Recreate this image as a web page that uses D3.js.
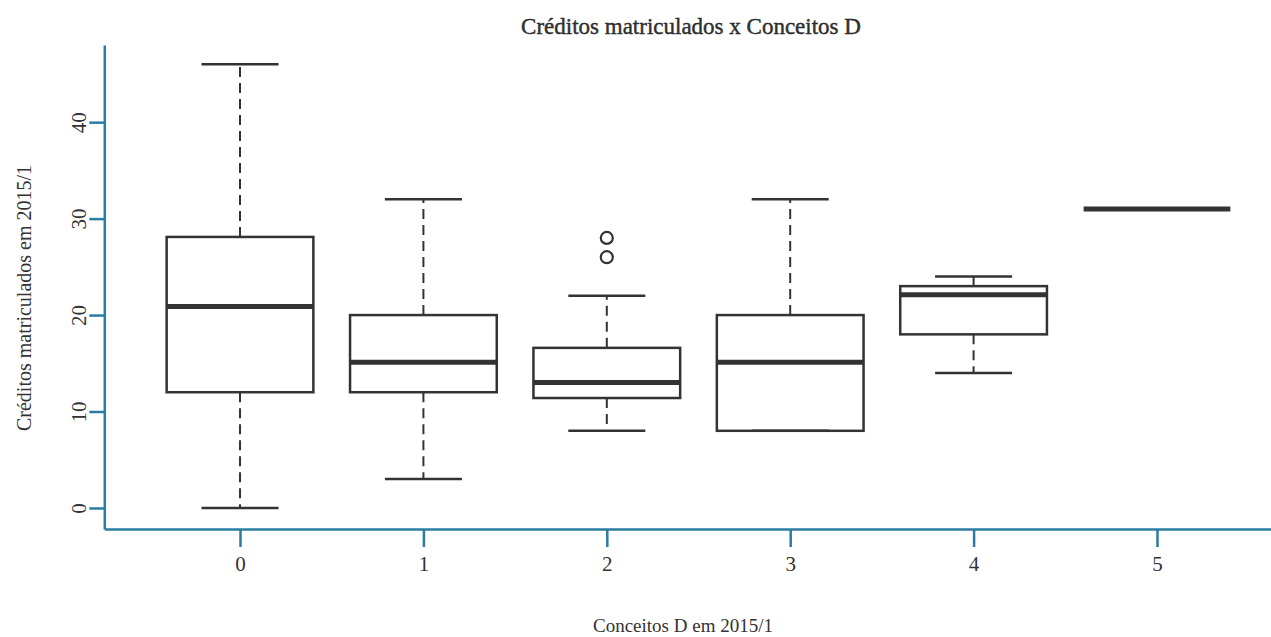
<!DOCTYPE html>
<html>
<head>
<meta charset="utf-8">
<script src="https://cdn.jsdelivr.net/npm/d3@7"></script>
<style>
  body { margin: 0; background: #fff; }
  text { font-family: "Liberation Serif", "DejaVu Serif", serif; fill: #333; }
</style>
</head>
<body>
<svg id="chart" width="1271" height="637"></svg>
<script>
const categories = ["0", "1", "2", "3", "4", "5"];
const whiskerLow  = [0, 3, 8, 8, 14, 31];
const q1          = [12, 12, 11.4, 8, 18, 31];
const median      = [20.9, 15.1, 13, 15.1, 22.1, 31];
const q3          = [28.1, 20, 16.6, 20, 23, 31];
const whiskerHigh = [46, 32, 22, 32, 24, 31];
const outliers    = [[], [], [26, 28], [], [], []];
const yTicks = [0, 10, 20, 30, 40];

const svg = d3.select("#chart");
const axisColor = "#2a7ca0";
const ink = "#333";

const x = d3.scaleLinear().domain([0.26, 6.74]).range([104.3, 1292.7]);
const y = d3.scaleLinear().domain([-2.18, 48]).range([529, 45]);

// axes (L-shaped frame)
const xAxis = svg.append("g").attr("transform", `translate(0,${y(-2.18)})`)
  .call(d3.axisBottom(x).tickValues(categories.map((c, i) => i + 1))
    .tickFormat((d, i) => categories[i]).tickSize(18).tickPadding(9).tickSizeOuter(0));
const yAxis = svg.append("g").attr("transform", `translate(${x(0.26)},0)`)
  .call(d3.axisLeft(y).tickValues(yTicks).tickSize(15).tickPadding(10).tickSizeOuter(0));

[xAxis, yAxis].forEach(g => {
  g.attr("font-size", null).attr("font-family", null);
  g.select(".domain").attr("stroke", axisColor).attr("stroke-width", 2.5);
  g.selectAll(".tick line").attr("stroke", axisColor).attr("stroke-width", 2.5);
  g.selectAll(".tick text").style("font-family", "Liberation Serif, serif")
    .style("font-size", "21px").attr("fill", "#444");
});
yAxis.selectAll(".tick text")
  .attr("text-anchor", "middle").attr("x", -26).attr("y", 0).attr("dy", "0.35em")
  .attr("transform", "rotate(-90,-26,0)");
xAxis.selectAll(".tick text").attr("dy", "0.71em");

// boxes
const g = svg.append("g");
const halfBox = 0.4, halfCap = 0.21;
categories.forEach((c, i) => {
  const pos = i + 1;
  // whiskers dashed
  if (whiskerHigh[i] > q3[i]) {
    g.append("line").attr("x1", x(pos)).attr("x2", x(pos))
      .attr("y1", y(q3[i])).attr("y2", y(whiskerHigh[i]))
      .attr("stroke", ink).attr("stroke-width", 2).attr("stroke-dasharray", "10,6");
  }
  if (whiskerLow[i] < q1[i]) {
    g.append("line").attr("x1", x(pos)).attr("x2", x(pos))
      .attr("y1", y(q1[i])).attr("y2", y(whiskerLow[i]))
      .attr("stroke", ink).attr("stroke-width", 2).attr("stroke-dasharray", "10,6");
  }
  // caps
  [whiskerLow[i], whiskerHigh[i]].forEach(v => {
    g.append("line").attr("x1", x(pos - halfCap)).attr("x2", x(pos + halfCap))
      .attr("y1", y(v)).attr("y2", y(v)).attr("stroke", ink).attr("stroke-width", 2.5);
  });
  // box
  if (q3[i] > q1[i]) {
    g.append("rect").attr("x", x(pos - halfBox)).attr("width", x(pos + halfBox) - x(pos - halfBox))
      .attr("y", y(q3[i])).attr("height", y(q1[i]) - y(q3[i]))
      .attr("fill", "none").attr("stroke", ink).attr("stroke-width", 2.5);
  }
  // median
  g.append("line").attr("x1", x(pos - halfBox)).attr("x2", x(pos + halfBox))
    .attr("y1", y(median[i])).attr("y2", y(median[i]))
    .attr("stroke", ink).attr("stroke-width", 5);
  // outliers
  outliers[i].forEach(v => {
    g.append("circle").attr("cx", x(pos)).attr("cy", y(v)).attr("r", 6)
      .attr("fill", "none").attr("stroke", ink).attr("stroke-width", 2.2);
  });
});

// titles
svg.append("text").attr("x", 691).attr("y", 34).attr("text-anchor", "middle")
  .style("font-size", "23px").attr("fill", "#222")
  .style("stroke", "#222").style("stroke-width", "0.4")
  .text("Créditos matriculados x Conceitos D");
svg.append("text").attr("x", 683).attr("y", 632).attr("text-anchor", "middle")
  .style("font-size", "19px").attr("fill", "#444")
  .text("Conceitos D em 2015/1");
svg.append("text").attr("transform", "translate(31,298) rotate(-90)")
  .attr("text-anchor", "middle").style("font-size", "20px").attr("fill", "#444")
  .text("Créditos matriculados em 2015/1");
</script>
</body>
</html>
